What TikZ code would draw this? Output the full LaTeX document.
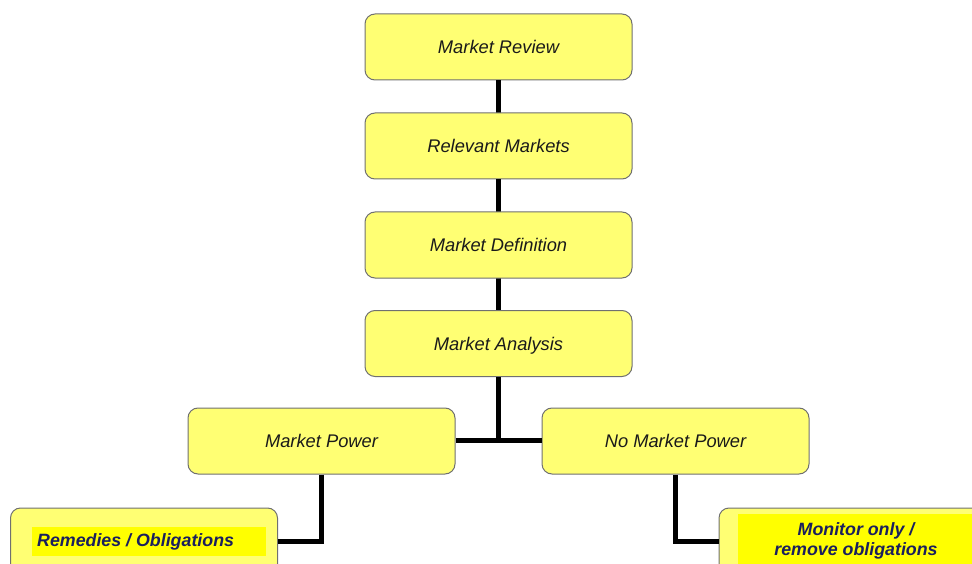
\documentclass[tikz,border=0pt]{standalone}
\usepackage{fontspec}
\setmainfont{Liberation Sans}
\definecolor{boxfill}{HTML}{FFFF73}
\definecolor{boxline}{HTML}{707070}
\definecolor{hilite}{HTML}{FFFF00}
\definecolor{navy}{HTML}{1A1F5E}
\definecolor{ink}{HTML}{1A1A1A}
\tikzset{
  stage/.style={draw=boxline, line width=1pt, fill=boxfill, rounded corners=10pt,
    minimum width=267pt, minimum height=66pt, inner sep=0pt, text=ink,
    text height=14pt, text depth=1pt,
    font=\fontsize{18.3}{21}\selectfont\itshape},
  conn/.style={line width=5pt, black},
  hl/.style={inner sep=0pt, text=navy,
    font=\fontsize{17.8}{20}\selectfont\bfseries\itshape}
}
\begin{document}
\begin{tikzpicture}[x=1pt,y=-1pt]
\useasboundingbox (0,0) rectangle (972,564);
\clip (0,0) rectangle (972,564);
\coordinate (j) at (498.5,440);
\draw[conn] (498.5,47) -- (j);
\node[stage] (review) at (498.5,47) {Market Review};
\node[stage] (relevant) at (498.5,146) {Relevant Markets};
\node[stage] (definition) at (498.5,245) {Market Definition};
\node[stage] (analysis) at (498.5,343.5) {Market Analysis};
\node[stage] (power) at (321.5,441) {Market Power};
\node[stage] (nopower) at (675.5,441) {No Market Power};
\node[stage] (remedies) at (144,541) {};
\node[stage] (monitor) at (852.5,541) {};
\draw[conn] (review) -- (relevant);
\draw[conn] (relevant) -- (definition);
\draw[conn] (definition) -- (analysis);
\draw[conn] (analysis) -- (j);
\draw[conn] (power.east |- j) -- (nopower.west |- j);
\draw[conn] (power.south) |- (remedies.east);
\draw[conn] (nopower.south) |- (monitor.west);
\fill[hilite] (32,527) rectangle (266,556);
\fill[hilite] (738,514) rectangle (990,570);
\node[hl, anchor=west] (remtext) at (37,541.5) {Remedies / Obligations};
\node[hl, align=center] (montext) at (856,540.5) {Monitor only /\\remove obligations};
\end{tikzpicture}
\end{document}
